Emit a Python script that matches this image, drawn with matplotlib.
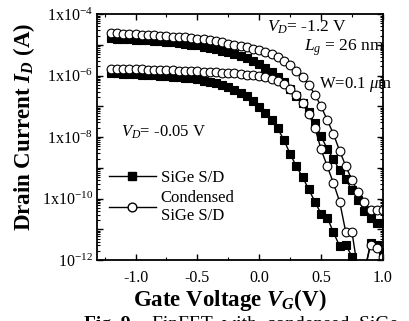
import matplotlib
matplotlib.use("Agg")
import matplotlib.pyplot as plt
from matplotlib.ticker import FixedLocator, LogLocator, NullFormatter
import numpy as np

plt.rcParams['font.family'] = ['Liberation Serif', 'DejaVu Serif']
plt.rcParams['mathtext.fontset'] = 'custom'
plt.rcParams['mathtext.rm'] = 'Liberation Serif'
plt.rcParams['mathtext.it'] = 'Liberation Serif:italic'
plt.rcParams['mathtext.bf'] = 'Liberation Serif:bold'
plt.rcParams['mathtext.bfit'] = 'Liberation Serif:italic:bold'

# gate voltage sweep (V)
vg = [-1.2, -1.15, -1.1, -1.05, -1.0, -0.95, -0.9, -0.85, -0.8, -0.75,
      -0.7, -0.65, -0.6, -0.55, -0.5, -0.45, -0.4, -0.35, -0.3, -0.25,
      -0.2, -0.15, -0.1, -0.05, 0.0, 0.05, 0.1, 0.15, 0.2, 0.25,
      0.3, 0.35, 0.4, 0.45, 0.5, 0.55, 0.6, 0.65, 0.7, 0.75,
      0.8, 0.85, 0.9, 0.95, 1.0]

# log10 of drain current
# SiGe S/D, VD = -1.2 V
log_sige_hi = [-4.79, -4.80, -4.81, -4.82, -4.83, -4.84, -4.85, -4.87, -4.88, -4.90,
               -4.92, -4.94, -4.96, -4.99, -5.02, -5.06, -5.10, -5.14, -5.19, -5.24,
               -5.30, -5.36, -5.43, -5.52, -5.62, -5.74, -5.88, -6.04, -6.22, -6.42,
               -6.65, -6.90, -7.20, -7.55, -7.98, -8.38, -8.72, -9.08, -9.38, -9.72,
               -10.05, -10.40, -10.62, -10.80, -10.78]
# condensed SiGe S/D, VD = -1.2 V
log_cond_hi = [-4.62, -4.63, -4.64, -4.65, -4.66, -4.67, -4.68, -4.69, -4.70, -4.72,
               -4.73, -4.75, -4.76, -4.78, -4.80, -4.82, -4.85, -4.88, -4.92, -4.96,
               -5.00, -5.04, -5.08, -5.12, -5.17, -5.23, -5.30, -5.40, -5.52, -5.67,
               -5.85, -6.05, -6.30, -6.62, -7.00, -7.45, -7.90, -8.45, -8.95, -9.40,
               -9.80, -10.12, -10.37, -10.37, -10.37]
# SiGe S/D, VD = -0.05 V
log_sige_lo = [-5.92, -5.93, -5.94, -5.95, -5.96, -5.97, -5.98, -5.99, -6.00, -6.02,
               -6.03, -6.05, -6.07, -6.09, -6.12, -6.16, -6.20, -6.25, -6.31, -6.38,
               -6.46, -6.56, -6.68, -6.84, -7.02, -7.22, -7.45, -7.72, -8.10, -8.55,
               -8.95, -9.30, -9.70, -10.10, -10.50, -10.62, -11.10, -11.55, -11.50, -11.90,
               -12.40, -12.40, -11.45, -11.50, -11.75]
# condensed SiGe S/D, VD = -0.05 V
log_cond_lo = [-5.78, -5.78, -5.79, -5.79, -5.80, -5.80, -5.81, -5.81, -5.82, -5.82,
               -5.83, -5.84, -5.84, -5.85, -5.86, -5.87, -5.88, -5.89, -5.90, -5.92,
               -5.93, -5.95, -5.97, -5.99, -6.02, -6.06, -6.11, -6.18, -6.28, -6.42,
               -6.62, -6.90, -7.25, -7.70, -8.40, -8.95, -9.50, -10.10, -11.10, -11.10,
               -12.40, -12.40, -11.50, -11.60, -11.90]

fig = plt.figure(figsize=(4.10, 3.21), dpi=100)
ax = fig.add_axes([0.237, 0.19, 0.697, 0.766])

vg = np.array(vg)
ms = 6.3
for logs in [log_sige_hi, log_sige_lo]:
    ax.plot(vg, 10.0 ** np.array(logs), color='black', lw=1.0, marker='s',
            ms=ms, mfc='black', mec='black', mew=0.8)
for logs in [log_cond_hi, log_cond_lo]:
    ax.plot(vg, 10.0 ** np.array(logs), color='black', lw=1.0, marker='o',
            ms=ms, mfc='white', mec='black', mew=0.8)

ax.set_yscale('log')
ax.set_xlim(-1.31, 1.0)
ax.set_ylim(1e-12, 1e-4)

ax.set_xticks([-1.0, -0.5, 0.0, 0.5, 1.0])
ax.set_xticklabels(['-1.0', '-0.5', '0.0', '0.5', '1.0'])
ax.xaxis.set_minor_locator(FixedLocator([-1.25, -0.75, -0.25, 0.25, 0.75]))

ax.yaxis.set_major_locator(FixedLocator([1e-12, 1e-11, 1e-10, 1e-9, 1e-8, 1e-7, 1e-6, 1e-5, 1e-4]))
ax.yaxis.set_minor_locator(LogLocator(base=10, subs=np.arange(2, 10), numticks=20))
ax.yaxis.set_minor_formatter(NullFormatter())
ylabs = {1e-12: r'10$^{-12}$', 1e-10: r'1x10$^{-10}$', 1e-8: r'1x10$^{-8}$',
         1e-6: r'1x10$^{-6}$', 1e-4: r'1x10$^{-4}$'}
ax.set_yticklabels([ylabs.get(v, '') for v in ax.get_yticks()])

ax.tick_params(which='both', direction='in', top=True, right=True, labelsize=11.5)
ax.tick_params(which='major', length=4, width=1.0)
ax.tick_params(which='minor', length=2, width=0.8)
ax.tick_params(axis='x', pad=7)
ax.tick_params(axis='y', pad=3)
for s in ax.spines.values():
    s.set_linewidth(1.3)

ax.set_xlabel(r'Gate Voltage $\mathbfit{V}_\mathbfit{G}$(V)', fontsize=16.5,
              fontweight='bold')
ax.xaxis.set_label_coords(0.465, -0.11)
ax.set_ylabel(r'Drain Current $\mathbfit{I}_\mathbfit{D}$ (A)', fontsize=16.5,
              fontweight='bold')
ax.yaxis.set_label_coords(-0.21, 0.54)

ax.text(0.595, 0.93, r'$V_D$= -1.2 V', transform=ax.transAxes, fontsize=12.5)
ax.text(0.725, 0.85, r'$L_g$ = 26 nm', transform=ax.transAxes, fontsize=12.5)
ax.text(0.775, 0.70, r'W=0.1 $\mu$m', transform=ax.transAxes, fontsize=12)
ax.text(0.085, 0.50, r'$V_D$= -0.05 V', transform=ax.transAxes, fontsize=12)

ax.plot([], [], color='black', lw=1.0, marker='s', ms=ms, mfc='black',
        mec='black', label='SiGe S/D')
ax.plot([], [], color='black', lw=1.0, marker='o', ms=ms, mfc='white',
        mec='black', label='Condensed\nSiGe S/D')
h, l = ax.get_legend_handles_labels()
ax.legend(h[-2:], l[-2:], loc='upper left', bbox_to_anchor=(0.0, 0.415),
          frameon=False, fontsize=12, handlelength=2.8, handletextpad=0.3,
          labelspacing=0.25, borderaxespad=0.3)

fig.text(0.205, -0.012, 'Fig. 9', fontsize=14, fontweight='bold', va='center')
fig.text(0.37, -0.012, 'FinFET  with  condensed  SiGe', fontsize=14, va='center')

fig.savefig('out.png', dpi=100)
